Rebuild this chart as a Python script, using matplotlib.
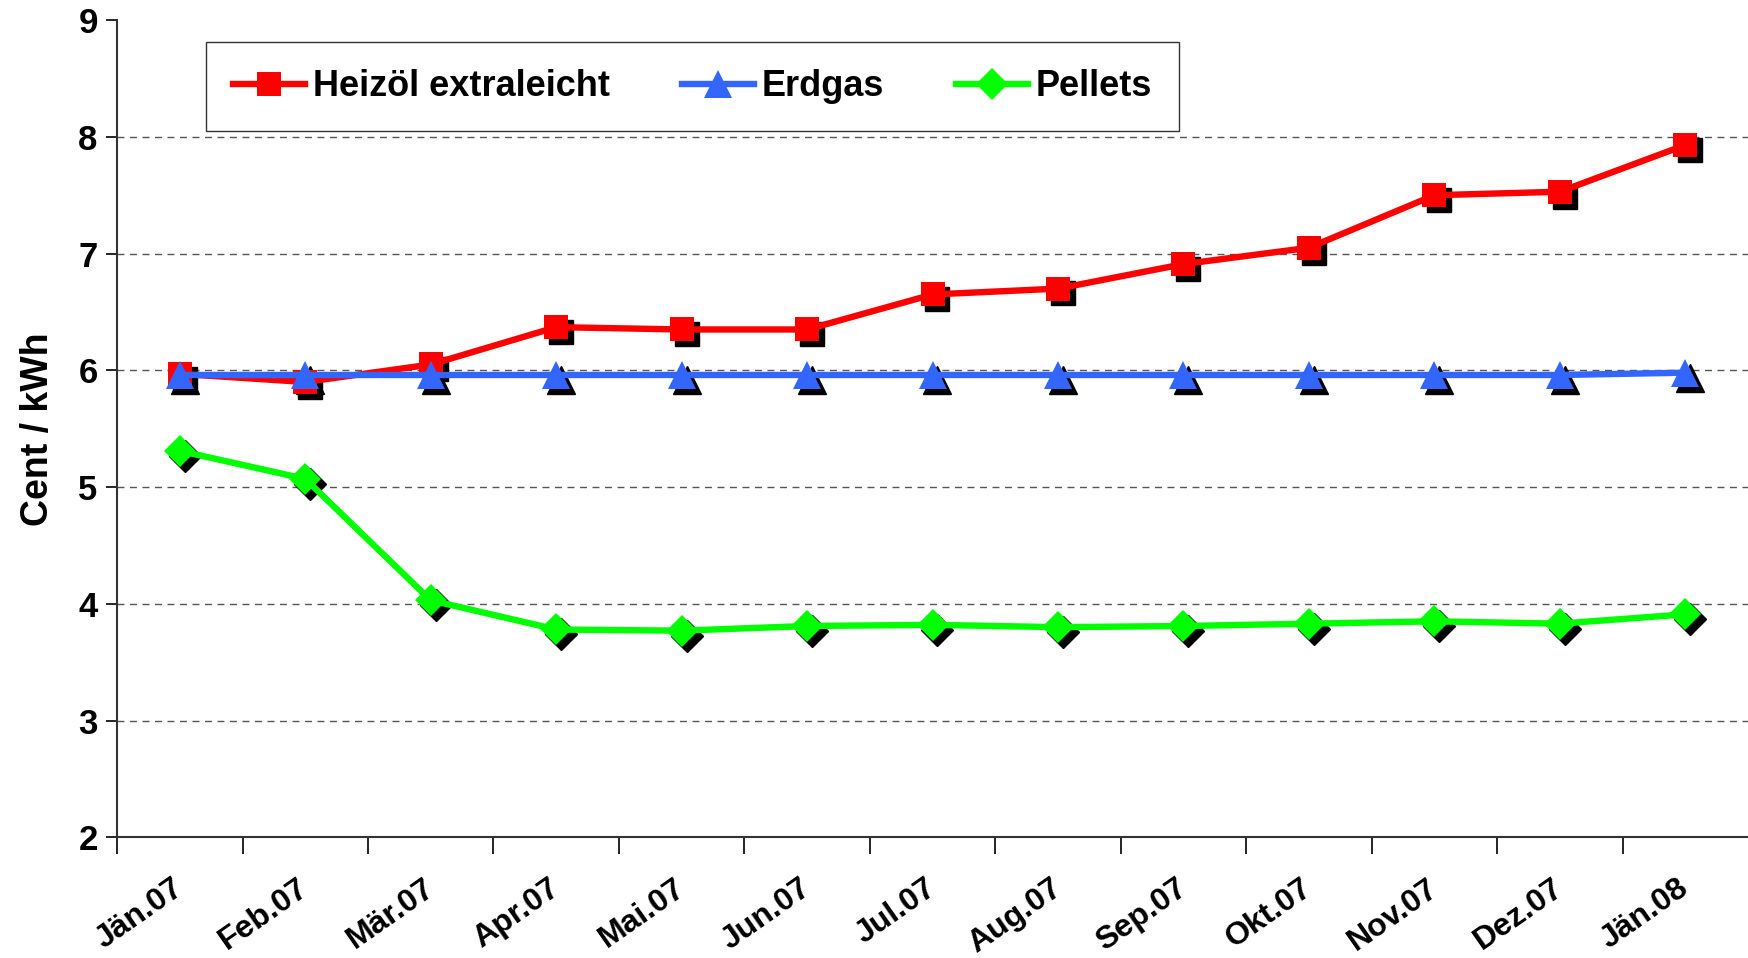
import matplotlib
matplotlib.use("Agg")
import matplotlib.pyplot as plt
import matplotlib.transforms as mtransforms
import numpy as np

months = ["Jän.07", "Feb.07", "Mär.07", "Apr.07", "Mai.07", "Jun.07", "Jul.07",
          "Aug.07", "Sep.07", "Okt.07", "Nov.07", "Dez.07", "Jän.08"]
heizoel = [5.97, 5.90, 6.05, 6.37, 6.35, 6.35, 6.65, 6.70, 6.91, 7.05, 7.50, 7.53, 7.93]
erdgas = [5.96, 5.96, 5.96, 5.96, 5.96, 5.96, 5.96, 5.96, 5.96, 5.96, 5.96, 5.96, 5.98]
pellets = [5.31, 5.07, 4.03, 3.78, 3.77, 3.81, 3.82, 3.80, 3.81, 3.83, 3.85, 3.83, 3.91]

plt.rcParams["font.family"] = ["Liberation Sans", "DejaVu Sans"]
plt.rcParams["font.weight"] = "bold"

fig = plt.figure(figsize=(17.48, 9.58), dpi=100)
ax = fig.add_axes([0.067, 0.126, 0.933, 0.853])

x = np.arange(len(months))
series = [
    (heizoel, "Heizöl extraleicht", "#FF0000", "s", 17),
    (erdgas, "Erdgas", "#3366FF", "^", 20),
    (pellets, "Pellets", "#00FF00", "D", 16),
]

# black drop shadow of the markers
shadow = ax.transData + mtransforms.ScaledTranslation(3.5 / 72, -3.5 / 72, fig.dpi_scale_trans)
for vals, name, col, mk, ms in series:
    ax.plot(x, vals, linestyle="none", marker=mk, markersize=ms, color="black",
            transform=shadow, zorder=2)
for i, (vals, name, col, mk, ms) in enumerate(series):
    ax.plot(x, vals, color=col, linewidth=4.6, marker=mk, markersize=ms,
            markeredgewidth=0, label=name, zorder=3 + i)

ax.set_xlim(-0.5, len(months) - 0.5)
ax.set_ylim(2, 9)
ax.set_yticks(range(2, 10))
ax.tick_params(axis="y", labelsize=25, length=8, width=1.2, direction="out", pad=6)
ax.grid(axis="y", linestyle=(0, (5, 4)), color="#555555", linewidth=1)
ax.yaxis.get_gridlines()[-1].set_visible(False)

# major ticks at category boundaries, labels at category centres
ax.set_xticks(np.arange(-0.5, len(months) - 0.5, 1))
ax.set_xticklabels([])
ax.tick_params(axis="x", which="major", length=12, width=1.2, direction="out")
ax.set_xticks(x, minor=True)
ax.set_xticklabels(months, minor=True, rotation=35, ha="right",
                   rotation_mode="anchor", fontsize=23, fontweight="bold")
ax.tick_params(axis="x", which="minor", length=0, pad=26)
shift = mtransforms.ScaledTranslation(-8 / 100, 0, fig.dpi_scale_trans)
for lbl in ax.xaxis.get_minorticklabels():
    lbl.set_transform(lbl.get_transform() + shift)

for side in ["top", "right"]:
    ax.spines[side].set_visible(False)
for side in ["left", "bottom"]:
    ax.spines[side].set_linewidth(1.5)
    ax.spines[side].set_color("#333333")

ax.set_ylabel("Cent / kWh", fontsize=27, fontweight="bold", labelpad=16)

leg = ax.legend(loc="upper left", bbox_to_anchor=(0.0546, 0.973), ncol=3,
                fontsize=26, frameon=True, fancybox=False, edgecolor="black",
                handlelength=2.0, handletextpad=0.2, columnspacing=2.0,
                borderpad=0.75, borderaxespad=0)
leg.get_frame().set_linewidth(1.0)

fig.savefig("out.png", dpi=100)
